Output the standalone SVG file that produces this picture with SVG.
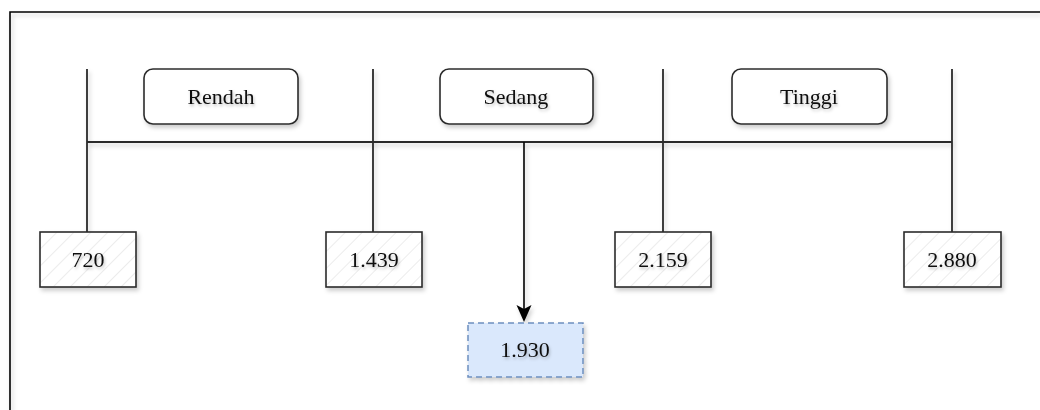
<svg xmlns="http://www.w3.org/2000/svg" width="1040" height="410" viewBox="0 0 1040 410">
  <style>
    .lbl { font-family: "Liberation Serif", "Times New Roman", serif; font-size: 22px; fill: #111111; text-anchor: middle; }
    .cat { fill: #ffffff; stroke: #2b2b2b; stroke-width: 1.6; }
    .val { fill: url(#hatch); stroke: #2b2b2b; stroke-width: 1.6; }
    .res { fill: #dae8fc; stroke: #6c8ebf; stroke-width: 1.5; stroke-dasharray: 6 4; }
    .wire { stroke: #2b2b2b; stroke-width: 1.8; fill: none; }
    .frame { stroke: #000000; stroke-width: 1.6; fill: none; }
  </style>
  <defs>
    <filter id="sh" x="-20%" y="-20%" width="140%" height="160%">
      <feDropShadow dx="2" dy="3" stdDeviation="2" flood-color="#000" flood-opacity="0.2"/>
    </filter>
    <filter id="tsh" x="-20%" y="-40%" width="140%" height="180%">
      <feDropShadow dx="1" dy="2" stdDeviation="1.5" flood-color="#000" flood-opacity="0.25"/>
    </filter>
    <pattern id="hatch" patternUnits="userSpaceOnUse" width="12" height="12" patternTransform="rotate(45)">
      <rect width="12" height="12" fill="#ffffff"/>
      <line x1="0" y1="0" x2="0" y2="12" stroke="#ececec" stroke-width="2"/>
    </pattern>
  </defs>

  <rect width="1040" height="410" fill="#ffffff"/>

  <g id="frame" filter="url(#sh)">
    <path class="frame" d="M10,410 V12 H1040"/>
  </g>

  <g id="connectors" filter="url(#sh)">
    <line class="wire" x1="87" y1="69" x2="87" y2="232"/>
    <line class="wire" x1="373" y1="69" x2="373" y2="232"/>
    <line class="wire" x1="663" y1="69" x2="663" y2="232"/>
    <line class="wire" x1="952" y1="69" x2="952" y2="232"/>
    <line class="wire" x1="87" y1="142" x2="952" y2="142"/>
    <path d="M524,142 V309" stroke="#000" stroke-width="1.6" fill="none"/>
    <path d="M516.5,305 L524,322 L531.5,305 L524,309 Z" fill="#000"/>
  </g>

  <g id="rendah">
    <rect class="cat" x="144" y="69" width="154" height="55" rx="9" filter="url(#sh)"/>
    <text class="lbl" x="221" y="104" filter="url(#tsh)">Rendah</text>
  </g>
  <g id="sedang">
    <rect class="cat" x="440" y="69" width="153" height="55" rx="9" filter="url(#sh)"/>
    <text class="lbl" x="516" y="104" filter="url(#tsh)">Sedang</text>
  </g>
  <g id="tinggi">
    <rect class="cat" x="732" y="69" width="155" height="55" rx="9" filter="url(#sh)"/>
    <text class="lbl" x="809" y="104" filter="url(#tsh)">Tinggi</text>
  </g>

  <g id="v720">
    <rect class="val" x="40" y="232" width="96" height="55" filter="url(#sh)"/>
    <text class="lbl" x="88" y="267" filter="url(#tsh)">720</text>
  </g>
  <g id="v1439">
    <rect class="val" x="326" y="232" width="96" height="55" filter="url(#sh)"/>
    <text class="lbl" x="374" y="267" filter="url(#tsh)">1.439</text>
  </g>
  <g id="v2159">
    <rect class="val" x="615" y="232" width="96" height="55" filter="url(#sh)"/>
    <text class="lbl" x="663" y="267" filter="url(#tsh)">2.159</text>
  </g>
  <g id="v2880">
    <rect class="val" x="904" y="232" width="97" height="55" filter="url(#sh)"/>
    <text class="lbl" x="952" y="267" filter="url(#tsh)">2.880</text>
  </g>

  <g id="v1930">
    <rect class="res" x="468" y="323" width="115" height="54" filter="url(#sh)"/>
    <text class="lbl" x="525" y="357" filter="url(#tsh)">1.930</text>
  </g>
</svg>
